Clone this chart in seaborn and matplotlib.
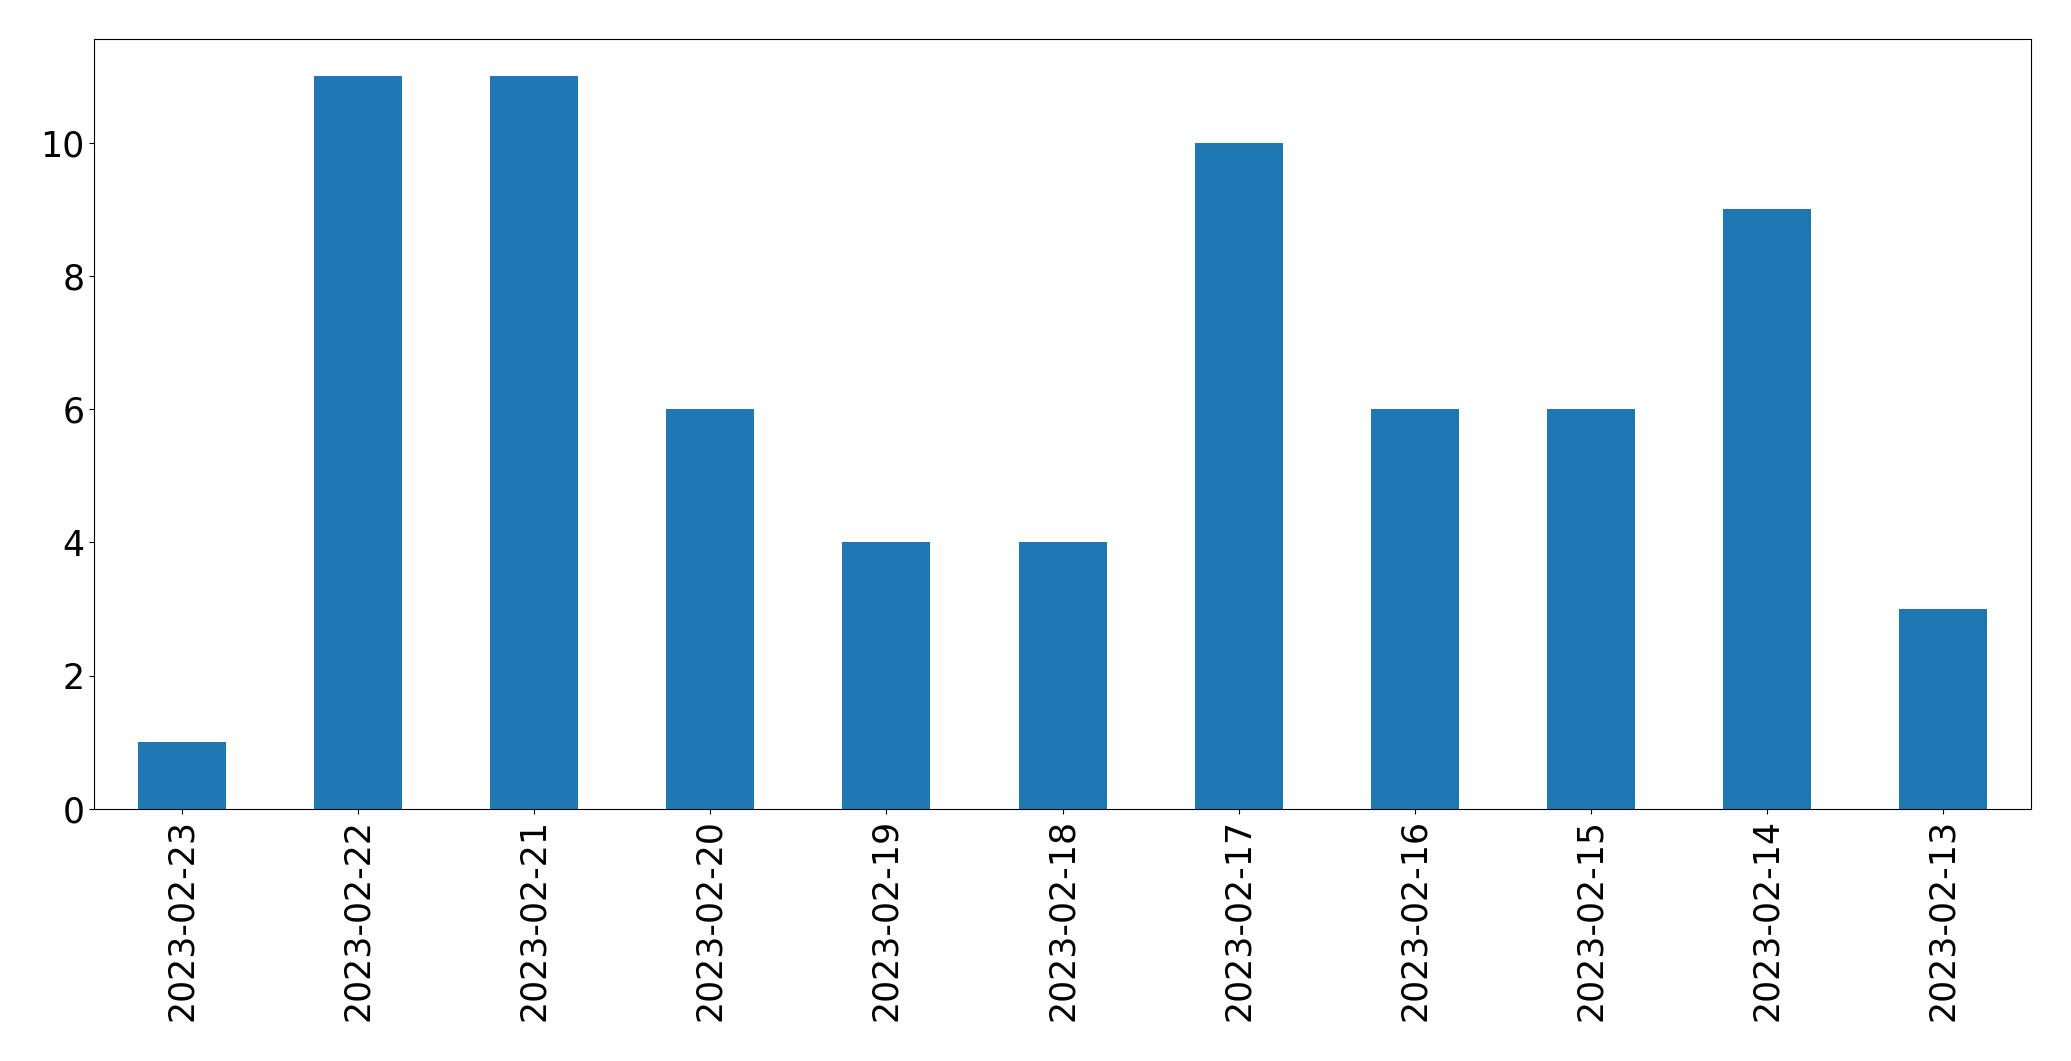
import pandas as pd
import numpy as np
import matplotlib
matplotlib.use('Agg')
import matplotlib.pyplot as plt
import seaborn as sns

# Daily counts (newest first, as in the source chart)
dates = ['2023-02-23', '2023-02-22', '2023-02-21', '2023-02-20', '2023-02-19',
         '2023-02-18', '2023-02-17', '2023-02-16', '2023-02-15', '2023-02-14',
         '2023-02-13']
counts = [1, 11, 11, 6, 4, 4, 10, 6, 6, 9, 3]

df = pd.DataFrame({'date': dates, 'count': counts})

fig = plt.figure(figsize=(20.71, 10.61), dpi=100)
ax = fig.add_axes([0.0454, 0.2375, 0.9353, 0.7255])

sns.barplot(data=df, x='date', y='count', order=dates, color='#1f77b4',
            saturation=1, width=0.5, linewidth=0, ax=ax)

ax.set_xlim(-0.5, len(dates) - 0.5)
ax.set_ylim(0, max(counts) * 1.05)
ax.set_xlabel('')
ax.set_ylabel('')
ax.tick_params(axis='both', labelsize=25)
ax.tick_params(axis='x', labelrotation=90)

fig.savefig('out.png', dpi=100)
